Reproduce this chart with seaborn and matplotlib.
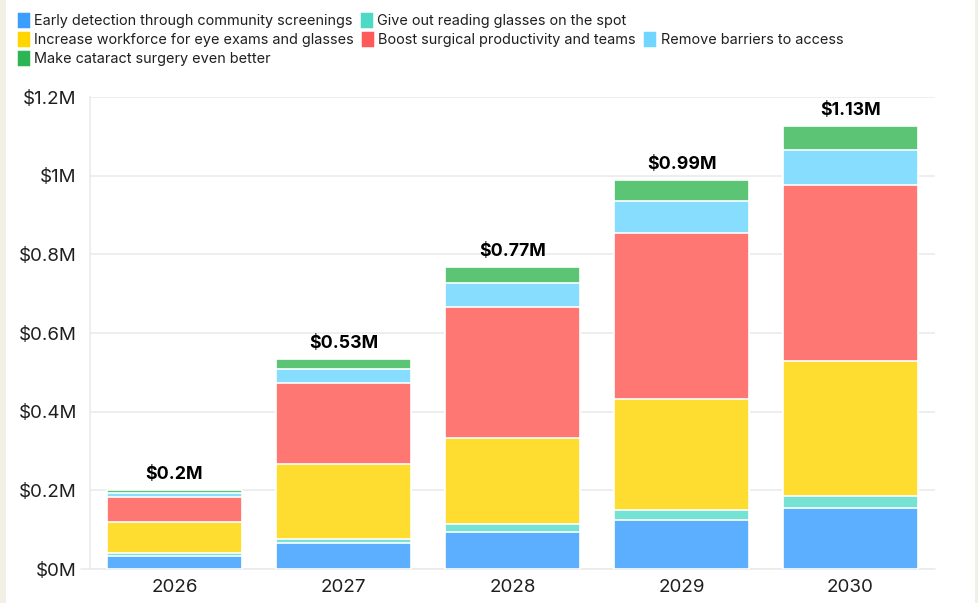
import numpy as np
import pandas as pd
import matplotlib
matplotlib.use('Agg')
import matplotlib.pyplot as plt
from matplotlib.patches import Patch, Rectangle
import seaborn as sns

# --- DATA (values in $M) ---
YEARS = ['2026', '2027', '2028', '2029', '2030']
SERIES = [
    'Early detection through community screenings',
    'Give out reading glasses on the spot',
    'Increase workforce for eye exams and glasses',
    'Boost surgical productivity and teams',
    'Remove barriers to access',
    'Make cataract surgery even better',
]
early_detection = [0.034, 0.065, 0.095, 0.125, 0.154]
reading_glasses = [0.007, 0.011, 0.019, 0.025, 0.032]
workforce = [0.078, 0.191, 0.219, 0.283, 0.342]
surgical = [0.063, 0.207, 0.334, 0.422, 0.447]
barriers = [0.010, 0.034, 0.060, 0.080, 0.091]
cataract = [0.008, 0.025, 0.041, 0.054, 0.060]
TOTAL_LABELS = ['$0.2M', '$0.53M', '$0.77M', '$0.99M', '$1.13M']
Y_TICKS = [0, 0.2, 0.4, 0.6, 0.8, 1.0, 1.2]
Y_TICK_LABELS = ['$0M', '$0.2M', '$0.4M', '$0.6M', '$0.8M', '$1M', '$1.2M']

# --- STYLE ---
LEGEND_COLORS = ['#3B9EFF', '#4DD9C4', '#FFD600', '#FF5A5A', '#6FD6FF', '#2DB555']
BAR_COLORS = ['#5CAFFE', '#74E3D4', '#FEDD30', '#FF7773', '#86DDFE', '#5BC575']
GRID = '#ebebeb'
TEXT = '#1f1f1f'

sns.set_theme(style='white')
plt.rcParams['font.family'] = ['Inter', 'DejaVu Sans']

values = np.array([early_detection, reading_glasses, workforce, surgical, barriers, cataract])
cum = np.cumsum(values, axis=0)

fig = plt.figure(figsize=(9.79, 6.03), dpi=100, facecolor='#F2F0E4')
fig.patches.append(Rectangle((6 / 979, 0), 969 / 979, 1, transform=fig.transFigure,
                             facecolor='white', edgecolor='none', zorder=-5))
ax = fig.add_axes([90 / 979, 34 / 603, 845 / 979, 472 / 603])
ax.set_facecolor('none')

# stacked bars: draw cumulative heights from the top layer down
for i in range(len(SERIES) - 1, -1, -1):
    df = pd.DataFrame({'year': YEARS, 'value': cum[i]})
    sns.barplot(data=df, x='year', y='value', color=BAR_COLORS[i], saturation=1,
                width=0.8, edgecolor='white', linewidth=1.2, ax=ax, zorder=3)

for j, lab in enumerate(TOTAL_LABELS):
    ax.annotate(lab, (j, cum[-1][j]), xytext=(0, 5), textcoords='offset points',
                ha='center', va='bottom', fontsize=12.8, fontweight='bold', color='black')

ax.set_ylim(0, 1.2)
ax.set_xlim(-0.5, len(YEARS) - 0.5)
ax.set_yticks(Y_TICKS)
ax.set_yticklabels(Y_TICK_LABELS)
ax.set_xlabel('')
ax.set_ylabel('')
ax.yaxis.grid(True, color=GRID, linewidth=1.2, zorder=0)
ax.set_axisbelow(True)
for s in ['top', 'right', 'bottom']:
    ax.spines[s].set_visible(False)
ax.spines['left'].set_color(GRID)
ax.spines['left'].set_linewidth(1.2)
ax.tick_params(axis='y', length=6.5, width=1.2, color=GRID, labelsize=13.5, labelcolor=TEXT, pad=3)
ax.tick_params(axis='x', length=4, width=1.2, color=GRID, labelsize=13.5, labelcolor=TEXT, pad=3)
ax.axhline(0, xmin=-9 / 845, xmax=1, color=GRID, linewidth=1.2, clip_on=False, zorder=1)

# legend laid out in three flowing rows
rows = [[0, 1], [2, 3, 4], [5]]
row_y = [21, 40, 59]
for idx, y in zip(rows, row_y):
    handles = [Patch(facecolor=LEGEND_COLORS[k], edgecolor=LEGEND_COLORS[k], linewidth=2.5,
                     joinstyle='round', label=SERIES[k]) for k in idx]
    fig.legend(handles=handles, loc='center left', bbox_to_anchor=(19 / 979, 1 - y / 603),
               ncol=len(idx), frameon=False, fontsize=10.4, handlelength=0.6, handleheight=0.9,
               handletextpad=0.45, columnspacing=0.65, borderpad=0, borderaxespad=0,
               labelcolor=TEXT)

fig.savefig('out.png', dpi=100, facecolor=fig.get_facecolor())
